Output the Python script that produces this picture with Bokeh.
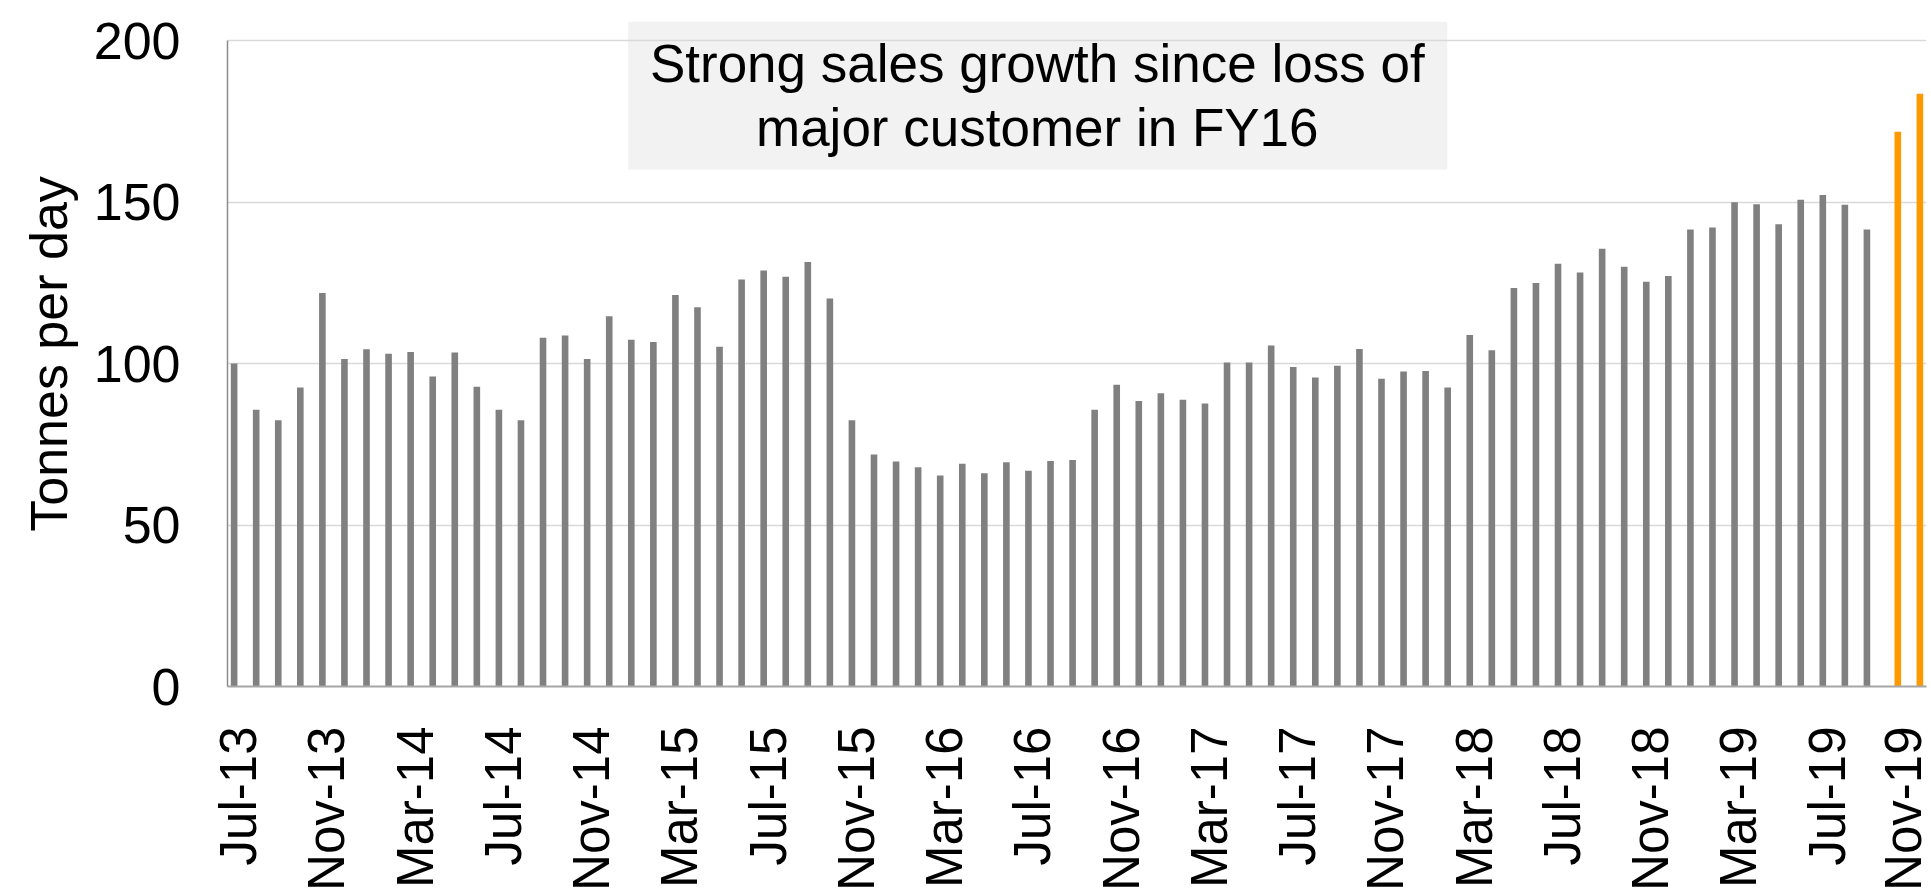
from bokeh.plotting import figure
from bokeh.models import Range1d, FixedTicker, BoxAnnotation, Label, ColumnDataSource
from bokeh.transform import dodge
from bokeh.embed import file_html
from bokeh.resources import INLINE
import math

months = [
    "Jul-13", "Aug-13", "Sep-13", "Oct-13", "Nov-13", "Dec-13",
    "Jan-14", "Feb-14", "Mar-14", "Apr-14", "May-14", "Jun-14",
    "Jul-14", "Aug-14", "Sep-14", "Oct-14", "Nov-14", "Dec-14",
    "Jan-15", "Feb-15", "Mar-15", "Apr-15", "May-15", "Jun-15",
    "Jul-15", "Aug-15", "Sep-15", "Oct-15", "Nov-15", "Dec-15",
    "Jan-16", "Feb-16", "Mar-16", "Apr-16", "May-16", "Jun-16",
    "Jul-16", "Aug-16", "Sep-16", "Oct-16", "Nov-16", "Dec-16",
    "Jan-17", "Feb-17", "Mar-17", "Apr-17", "May-17", "Jun-17",
    "Jul-17", "Aug-17", "Sep-17", "Oct-17", "Nov-17", "Dec-17",
    "Jan-18", "Feb-18", "Mar-18", "Apr-18", "May-18", "Jun-18",
    "Jul-18", "Aug-18", "Sep-18", "Oct-18", "Nov-18", "Dec-18",
    "Jan-19", "Feb-19", "Mar-19", "Apr-19", "May-19", "Jun-19",
    "Jul-19", "Aug-19", "Sep-19", "Oct-19", "Nov-19",
]

# Actual sales, Jul-13 .. Sep-19 (tonnes per day)
actual = [
    100.0, 85.7, 82.4, 92.6, 121.8, 101.4,
    104.4, 103.0, 103.6, 96.0, 103.4, 92.8,
    85.7, 82.4, 108.0, 108.7, 101.4, 114.6,
    107.4, 106.7, 121.2, 117.4, 105.2, 126.0,
    128.8, 126.9, 131.4, 120.1, 82.4, 71.8,
    69.7, 67.9, 65.3, 69.0, 66.0, 69.4,
    66.8, 69.8, 70.1, 85.7, 93.4, 88.4,
    90.8, 88.8, 87.6, 100.3, 100.3, 105.6,
    98.9, 95.7, 99.3, 104.5, 95.3, 97.5,
    97.7, 92.6, 108.8, 104.1, 123.4, 124.9,
    130.9, 128.2, 135.5, 130.0, 125.3, 127.1,
    141.5, 142.1, 149.9, 149.3, 143.1, 150.7,
    152.2, 149.2, 141.5,
]

# Highlighted months (orange)
highlight_months = ["Oct-19", "Nov-19"]
highlight = [171.8, 183.5]

tick_labels = ["Jul-13", "Nov-13", "Mar-14", "Jul-14", "Nov-14", "Mar-15",
               "Jul-15", "Nov-15", "Mar-16", "Jul-16", "Nov-16", "Mar-17",
               "Jul-17", "Nov-17", "Mar-18", "Jul-18", "Nov-18", "Mar-19",
               "Jul-19", "Nov-19"]

y_ticks = [0, 50, 100, 150, 200]

title_lines = ["Strong sales growth since loss of", "major customer in FY16"]

FONT = "Liberation Sans"
FS = "52px"

src_a = ColumnDataSource(dict(x=[months.index(m) for m in months[:len(actual)]], y=actual))
src_h = ColumnDataSource(dict(x=[months.index(m) for m in highlight_months], y=highlight))

p = figure(width=1931, height=893, output_backend="svg", toolbar_location=None,
           x_range=Range1d(-0.5, len(months) - 0.5), y_range=Range1d(0, 205.9),
           min_border_left=227, min_border_right=5, min_border_top=21, min_border_bottom=206)

p.background_fill_color = "white"
p.border_fill_color = "white"
p.outline_line_color = None

p.vbar(x=dodge("x", -0.2), top="y", width=0.3, bottom=0, source=src_a,
       fill_color="#808080", line_color=None)
p.vbar(x=dodge("x", 0.2), top="y", width=0.3, bottom=0, source=src_h,
       fill_color="#FF9900", line_color=None)

# title box
box = BoxAnnotation(left=17.65, right=54.78, bottom=160.1, top=205.9,
                    fill_color="#F2F2F2", fill_alpha=1.0, line_color=None, level="image")
p.add_layout(box)
p.add_layout(Label(x=36.2, y=192.8, text=title_lines[0], text_align="center",
                   text_baseline="alphabetic", text_font=FONT, text_font_size="53px",
                   text_color="black"))
p.add_layout(Label(x=36.2, y=173.2, text=title_lines[1], text_align="center",
                   text_baseline="alphabetic", text_font=FONT, text_font_size="53px",
                   text_color="black"))

# grid
p.xgrid.visible = False
p.ygrid.ticker = FixedTicker(ticks=y_ticks)
p.ygrid.grid_line_color = "#D9D9D9"
p.ygrid.grid_line_width = 1.5

# x axis
tick_pos = [months.index(t) for t in tick_labels]
p.xaxis.ticker = FixedTicker(ticks=tick_pos)
p.xaxis.major_label_overrides = {i: months[i] for i in tick_pos}
p.xaxis.major_label_orientation = math.pi / 2
p.xaxis.major_label_text_font = FONT
p.xaxis.major_label_text_font_size = "51px"
p.xaxis.major_label_text_color = "black"
p.xaxis.major_label_standoff = 40
p.xaxis.major_tick_line_color = None
p.xaxis.minor_tick_line_color = None
p.xaxis.major_tick_out = 0
p.xaxis.axis_line_color = "#A6A6A6"
p.xaxis.axis_line_width = 2

# y axis
p.yaxis.ticker = FixedTicker(ticks=y_ticks)
p.yaxis.bounds = (0, 200)
p.yaxis.major_label_text_font = FONT
p.yaxis.major_label_text_font_size = FS
p.yaxis.major_label_text_color = "black"
p.yaxis.major_label_standoff = 47
p.yaxis.major_tick_line_color = None
p.yaxis.minor_tick_line_color = None
p.yaxis.major_tick_out = 0
p.yaxis.axis_line_color = "#8C8C8C"
p.yaxis.axis_line_width = 1.5
p.yaxis.axis_label = "Tonnes per day"
p.yaxis.axis_label_text_font = FONT
p.yaxis.axis_label_text_font_size = FS
p.yaxis.axis_label_text_font_style = "normal"
p.yaxis.axis_label_text_color = "black"
p.yaxis.axis_label_standoff = 13

open("out.html", "w").write(file_html(p, INLINE))
